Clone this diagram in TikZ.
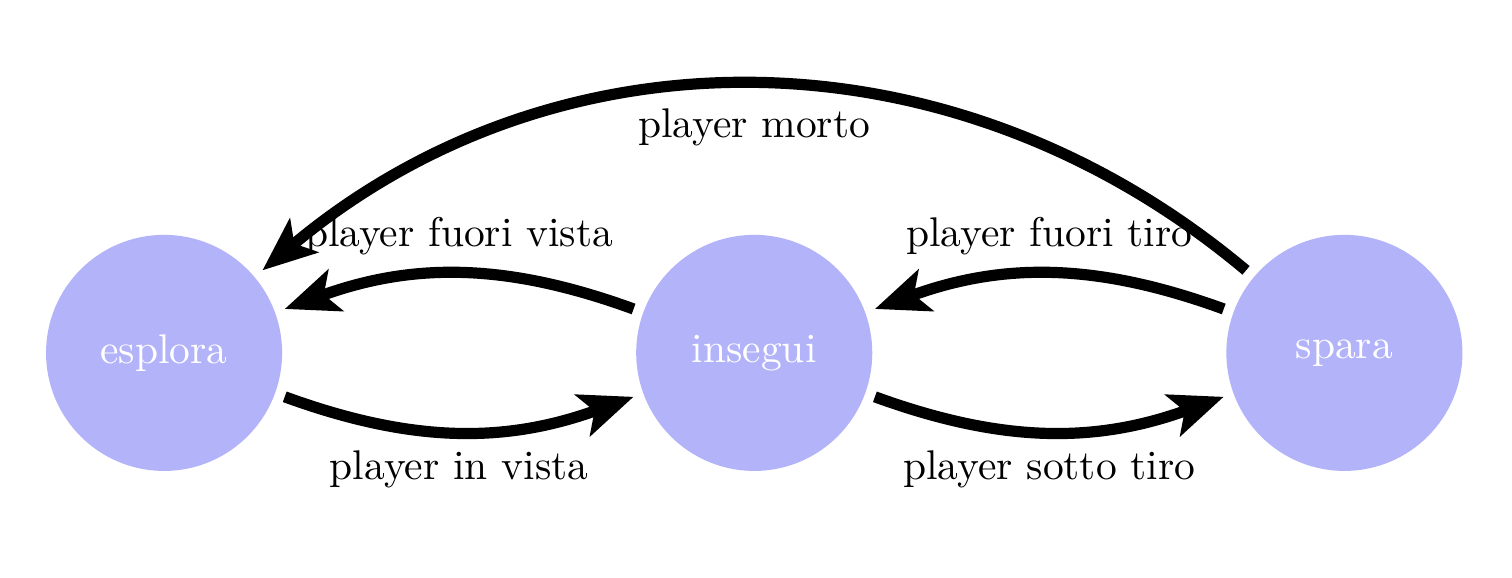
\documentclass[tikz,border=0pt]{standalone}
\usetikzlibrary{arrows.meta,positioning}
\definecolor{stateB}{RGB}{179,179,250}

\begin{document}
\begin{tikzpicture}[>={Stealth[length=13pt,width=10.5pt,inset=3pt]},node distance=5cm,on grid,
  state/.style={circle,fill=stateB,text=white,minimum size=2cm,outer sep=2.5pt},
  trans/.style={->,line width=2.7pt}]
\useasboundingbox (-1.39,-1.9) rectangle (11.42,2.99);
\node[state] (esplora) at (0,0) {esplora};
\node[state,right=of esplora] (insegui) {insegui};
\node[state,right=of insegui] (spara) {spara};
% transizioni
\draw[trans] (esplora) to[bend right=20] node[below] {player in vista} (insegui);
\draw[trans] (insegui) to[bend right=20] node[above] {player fuori vista} (esplora);
\draw[trans] (insegui) to[bend right=20] node[below] {player sotto tiro} (spara);
\draw[trans] (spara) to[bend right=20] node[above] {player fuori tiro} (insegui);
\draw[trans] (spara) to[bend right=40] node[below=1pt] {player morto} (esplora);
\end{tikzpicture}
\end{document}
